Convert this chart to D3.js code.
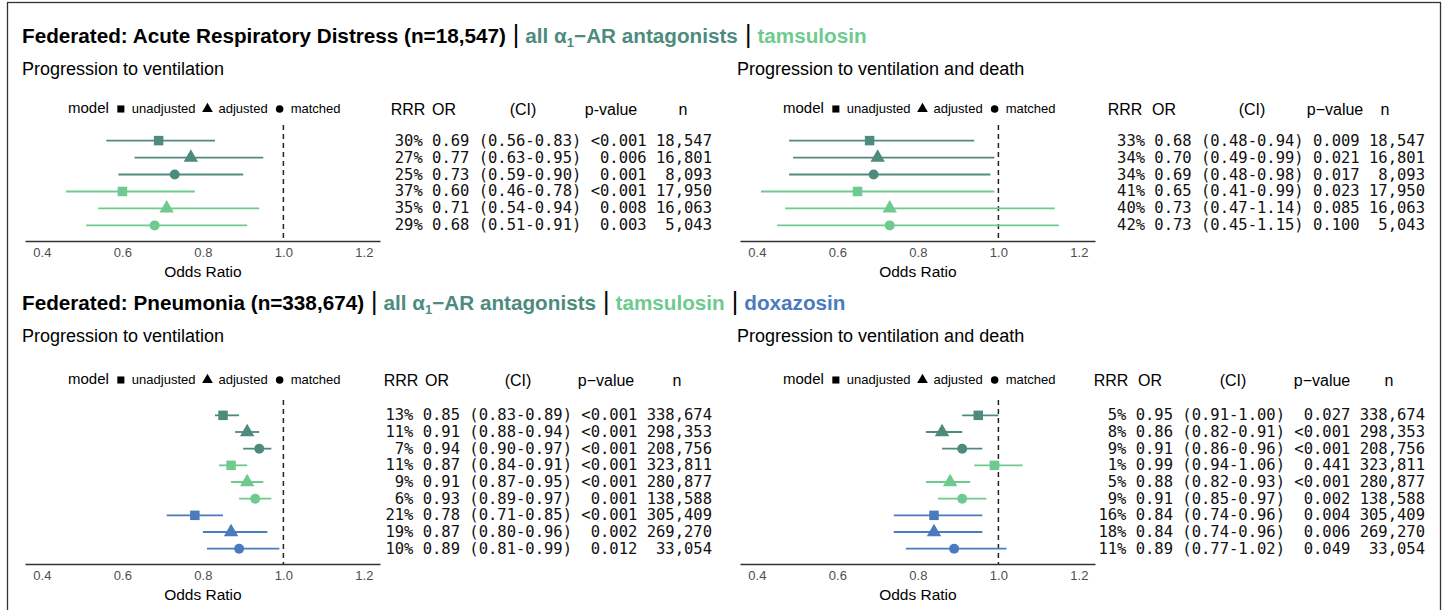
<!DOCTYPE html>
<html>
<head>
<meta charset="utf-8">
<script src="https://cdn.jsdelivr.net/npm/d3@7"></script>
<style>
  body { margin: 0; background: #fff; }
  text { font-family: "Liberation Sans", Arial, sans-serif; }
  .mono { font-family: "DejaVu Sans Mono", monospace; white-space: pre; }
</style>
</head>
<body>
<svg id="chart" width="1447" height="610"></svg>
<script>
// Data: each row is [RRR %, OR, CI low, CI high, p-value, n]
var groupNames = ["all α1-AR antagonists", "tamsulosin", "doxazosin"];
var modelNames = ["unadjusted", "adjusted", "matched"];
var tickValues = [0.4, 0.6, 0.8, 1.0, 1.2];

var ardsVent = [
  [30, 0.69, 0.56, 0.83, "<0.001", "18,547"],
  [27, 0.77, 0.63, 0.95, "0.006", "16,801"],
  [25, 0.73, 0.59, 0.90, "0.001", "8,093"],
  [37, 0.60, 0.46, 0.78, "<0.001", "17,950"],
  [35, 0.71, 0.54, 0.94, "0.008", "16,063"],
  [29, 0.68, 0.51, 0.91, "0.003", "5,043"]
];
var ardsVentDeath = [
  [33, 0.68, 0.48, 0.94, "0.009", "18,547"],
  [34, 0.70, 0.49, 0.99, "0.021", "16,801"],
  [34, 0.69, 0.48, 0.98, "0.017", "8,093"],
  [41, 0.65, 0.41, 0.99, "0.023", "17,950"],
  [40, 0.73, 0.47, 1.14, "0.085", "16,063"],
  [42, 0.73, 0.45, 1.15, "0.100", "5,043"]
];
var pneuVent = [
  [13, 0.85, 0.83, 0.89, "<0.001", "338,674"],
  [11, 0.91, 0.88, 0.94, "<0.001", "298,353"],
  [7, 0.94, 0.90, 0.97, "<0.001", "208,756"],
  [11, 0.87, 0.84, 0.91, "<0.001", "323,811"],
  [9, 0.91, 0.87, 0.95, "<0.001", "280,877"],
  [6, 0.93, 0.89, 0.97, "0.001", "138,588"],
  [21, 0.78, 0.71, 0.85, "<0.001", "305,409"],
  [19, 0.87, 0.80, 0.96, "0.002", "269,270"],
  [10, 0.89, 0.81, 0.99, "0.012", "33,054"]
];
var pneuVentDeath = [
  [5, 0.95, 0.91, 1.00, "0.027", "338,674"],
  [8, 0.86, 0.82, 0.91, "<0.001", "298,353"],
  [9, 0.91, 0.86, 0.96, "<0.001", "208,756"],
  [1, 0.99, 0.94, 1.06, "0.441", "323,811"],
  [5, 0.88, 0.82, 0.93, "<0.001", "280,877"],
  [9, 0.91, 0.85, 0.97, "0.002", "138,588"],
  [16, 0.84, 0.74, 0.96, "0.004", "305,409"],
  [18, 0.84, 0.74, 0.96, "0.006", "269,270"],
  [11, 0.89, 0.77, 1.02, "0.049", "33,054"]
];

var groupColors = ["#4e8b7e", "#6fca8f", "#4a7bbf"];
var shapes = [d3.symbolSquare, d3.symbolTriangle, d3.symbolCircle];
var shapeSize = [90, 90, 78];

var svg = d3.select("svg#chart");
svg.append("rect").attr("width", 1447).attr("height", 610).attr("fill", "#fff");
// outer frame
svg.append("rect").attr("x", 7.5).attr("y", 2.5).attr("width", 1433).attr("height", 620)
  .attr("fill", "none").attr("stroke", "#333").attr("stroke-width", 1.3);

// Titles
function title(y, parts) {
  var t = svg.append("text").attr("x", 22).attr("y", y).attr("font-size", 20.7).attr("font-weight", "bold");
  t.append("tspan").attr("fill", "#000").text(parts[0]);
  for (var g = 0; g < parts.length - 1; g++) {
    t.append("tspan").attr("dx", 7).attr("font-weight", "normal").attr("font-size", 25).attr("fill", "#000").text("|");
    var name = groupNames[g];
    if (name.indexOf("α1") >= 0) {
      var a = name.split("α1");
      t.append("tspan").attr("dx", 6).attr("fill", groupColors[g]).text(a[0] + "α");
      t.append("tspan").attr("dy", 4).attr("font-size", 13).attr("fill", groupColors[g]).text("1");
      t.append("tspan").attr("dy", -4).attr("fill", groupColors[g]).text(a[1].replace("-", "−"));
    } else {
      t.append("tspan").attr("dx", 6).attr("fill", groupColors[g]).text(name);
    }
  }
}
title(43, ["Federated: Acute Respiratory Distress (n=18,547)", 1, 1]);
title(310, ["Federated: Pneumonia (n=338,674)", 1, 1, 1]);

var panels = [
  {rows: ardsVent, ox: 0, sub: "Progression to ventilation", subY: 75, legY: 108, top: 125, axisY: 241,
   tableRight: 712, heads: [408, 444, 523, 611, 683], dash: "-"},
  {rows: ardsVentDeath, ox: 715, sub: "Progression to ventilation and death", subY: 75, legY: 108, top: 125, axisY: 241,
   tableRight: 1425, heads: [1125, 1164, 1252, 1335, 1385], dash: "−"},
  {rows: pneuVent, ox: 0, sub: "Progression to ventilation", subY: 342, legY: 379, top: 400, axisY: 564,
   tableRight: 712, heads: [401, 437, 518, 606, 677], dash: "−"},
  {rows: pneuVentDeath, ox: 715, sub: "Progression to ventilation and death", subY: 342, legY: 379, top: 400, axisY: 564,
   tableRight: 1425, heads: [1111, 1150, 1233, 1322, 1389], dash: "−"}
];

panels.forEach(function(p) {
  var g = svg.append("g");
  var x = d3.scaleLinear().domain([0.358, 1.24]).range([25 + p.ox, 380 + p.ox]);
  var y = d3.scalePoint().domain(d3.range(p.rows.length)).range([p.top, p.axisY]).padding(0.92);

  g.append("text").attr("x", 22 + p.ox).attr("y", p.subY).attr("font-size", 18).text(p.sub);

  // legend
  var cx = 68 + p.ox;
  var lt = g.append("text").attr("x", cx).attr("y", p.legY + 5).attr("font-size", 15).text("model");
  cx += lt.node().getComputedTextLength() + 7;
  modelNames.forEach(function(m, i) {
    g.append("path").attr("d", d3.symbol().type(shapes[i]).size(i == 2 ? 45 : 50)())
      .attr("transform", "translate(" + (cx + 5) + "," + (p.legY + 1) + ")").attr("fill", "#000");
    var tt = g.append("text").attr("x", cx + 16).attr("y", p.legY + 5).attr("font-size", 13).text(m);
    cx += 16 + tt.node().getComputedTextLength() + 7;
  });

  // reference line
  g.append("line").attr("x1", x(1)).attr("x2", x(1)).attr("y1", p.top).attr("y2", p.axisY)
    .attr("stroke", "#222").attr("stroke-width", 1.5).attr("stroke-dasharray", "5,4");

  // axis
  var ax = g.append("g").attr("transform", "translate(0," + p.axisY + ")")
    .call(d3.axisBottom(x).tickValues(tickValues).tickFormat(d3.format(".1f")).tickSize(0).tickPadding(7));
  ax.select(".domain").attr("stroke", "#333").attr("stroke-width", 1.7);
  ax.selectAll("text").attr("font-size", 13).attr("fill", "#4d4d4d").attr("font-family", "Liberation Sans, Arial, sans-serif");
  g.append("text").attr("x", x(0.8)).attr("y", p.axisY + 36).attr("text-anchor", "middle")
    .attr("font-size", 15.5).text("Odds Ratio");

  // CI lines and points
  g.selectAll("line.ci").data(p.rows).enter().append("line").attr("class", "ci")
    .attr("x1", function(d) { return x(d[2]); }).attr("x2", function(d) { return x(d[3]); })
    .attr("y1", function(d, i) { return y(i); }).attr("y2", function(d, i) { return y(i); })
    .attr("stroke", function(d, i) { return groupColors[Math.floor(i / 3)]; }).attr("stroke-width", 1.8);
  g.selectAll("path.pt").data(p.rows).enter().append("path").attr("class", "pt")
    .attr("d", function(d, i) { return d3.symbol().type(shapes[i % 3]).size(shapeSize[i % 3])(); })
    .attr("transform", function(d, i) { return "translate(" + x(d[1]) + "," + y(i) + ")"; })
    .attr("fill", function(d, i) { return groupColors[Math.floor(i / 3)]; });

  // table
  var heads = ["RRR", "OR", "(CI)", "p" + p.dash + "value", "n"];
  heads.forEach(function(h, i) {
    g.append("text").attr("x", p.heads[i]).attr("y", p.legY + 7).attr("text-anchor", "middle")
      .attr("font-size", 16).text(h);
  });
  var pw = d3.max(p.rows, function(d) { return d[4].length; });
  var nw = d3.max(p.rows, function(d) { return d[5].length; });
  g.selectAll("text.row").data(p.rows).enter().append("text").attr("class", "row mono")
    .attr("x", p.tableRight).attr("y", function(d, i) { return y(i) + 5; })
    .attr("text-anchor", "end").attr("font-size", 15.5).attr("fill", "#111")
    .text(function(d) {
      return (d[0] + "%").padStart(3) + " " + d[1].toFixed(2) + " (" + d[2].toFixed(2) + "-" + d[3].toFixed(2) + ") "
        + d[4].padStart(pw) + " " + d[5].padStart(nw);
    });
});
</script>
</body>
</html>
